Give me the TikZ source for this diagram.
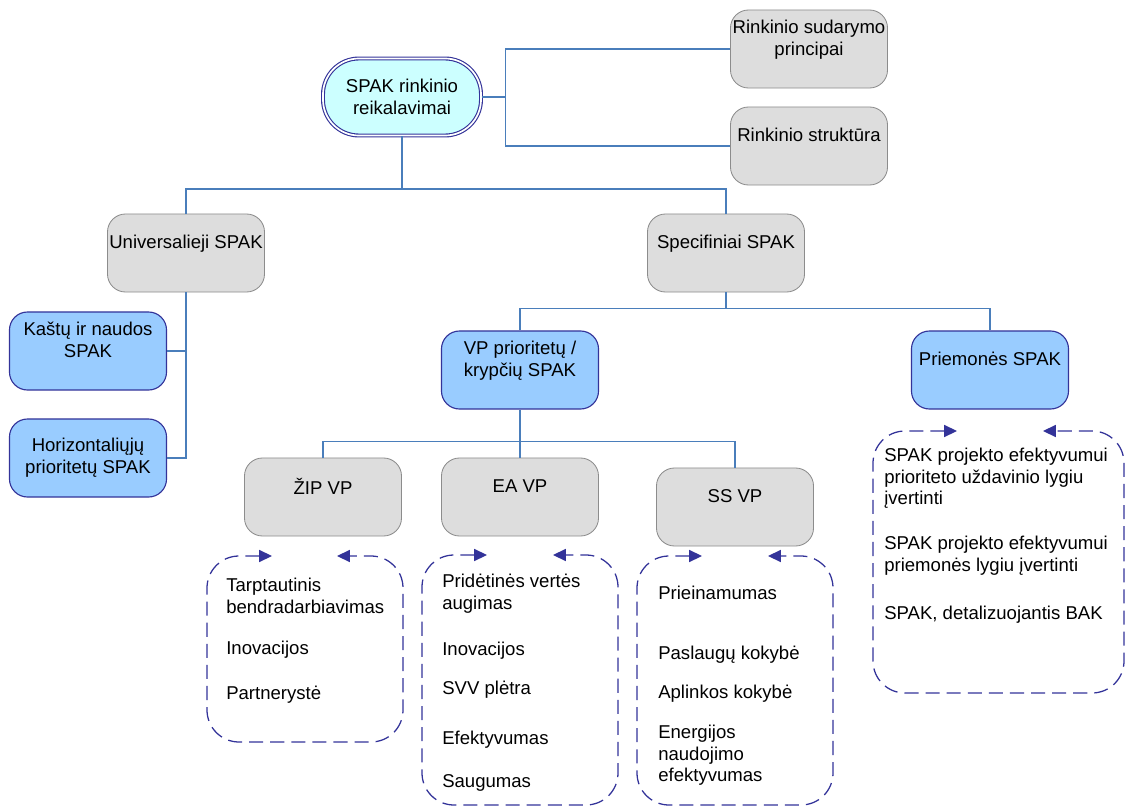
\documentclass[tikz,border=0pt]{standalone}
\usepackage{fontspec}
\setmainfont{Liberation Sans}
\usetikzlibrary{arrows.meta,positioning}
\definecolor{Navy}{HTML}{333399}
\definecolor{Link}{HTML}{4A7EBB}
\definecolor{SkyFill}{HTML}{99CCFF}
\definecolor{IceFill}{HTML}{CCFFFF}
\definecolor{GreyFill}{HTML}{DDDDDD}
\definecolor{GreyLine}{HTML}{8C8C8C}

\begin{document}
\begin{tikzpicture}[x=0.025cm,y=-0.025cm,
  every node/.style={font=\fontsize{13.2}{15.6}\selectfont},
  box/.style={rounded corners=0.45cm,minimum width=3.925cm,minimum height=1.95cm,inner sep=1pt,align=center},
  greybox/.style={box,draw=GreyLine,fill=GreyFill,line width=0.6pt},
  bluebox/.style={box,draw=Navy,fill=SkyFill,line width=0.8pt},
  rootbox/.style={box,rounded corners=0.9cm,draw=Navy,double=white,double distance=1.2pt,line width=0.8pt,fill=IceFill,minimum width=3.95cm,minimum height=1.925cm},
  link/.style={draw=Link,line width=0.9pt},
  cycleline/.style={draw=Navy,line width=0.9pt,dash pattern=on 10pt off 5pt,rounded corners=0.8cm,{Triangle[length=0.32cm,width=0.3cm]}-{Triangle[length=0.32cm,width=0.3cm]}},
  item/.style={anchor=west,inner sep=0pt,text height=9pt,text depth=0pt}
]
\useasboundingbox (0,0) rectangle (1126,808);

% top level
\node[rootbox] (root) at (402,97) {SPAK rinkinio\\reikalavimai};
\node[greybox] (princ) at (809,49) {Rinkinio sudarymo\\principai\\~};
\node[greybox] (strukt) at (809,146) {Rinkinio struktūra\\~};
\node[greybox] (univ) at (186,253) {Universalieji SPAK\\~};
\node[greybox] (spec) at (726,253) {Specifiniai SPAK\\~};

% universal branch
\node[bluebox] (kastu) at (88,351) {Kaštų ir naudos\\SPAK\\~};
\node[bluebox] (horiz) at (88,458) {Horizontaliųjų\\prioritetų SPAK};

% specific branch
\node[bluebox] (vp) at (520,370) {VP prioritetų /\\krypčių SPAK\\~};
\node[bluebox] (priem) at (990,370) {Priemonės SPAK\\~};
\node[greybox] (zip) at (323,497) {ŽIP VP\\~};
\node[greybox] (ea) at (520,497) {EA VP\\~};
\node[greybox] (ss) at (735,507) {SS VP\\~};

% connectors
\draw[link] (root.east) -- ++(24,0) coordinate (rj) |- (princ.west);
\draw[link] (rj) |- (strukt.west);
\draw[link] (root.south) -- ++(0,53) coordinate (rt) -| (univ.north);
\draw[link] (rt) -| (spec.north);
\draw[link] (univ.south) |- (kastu.east);
\draw[link] (univ.south) |- (horiz.east);
\draw[link] (spec.south) -- ++(0,16) coordinate (st) -| (vp.north);
\draw[link] (st) -| (priem.north);
\draw[link] (vp.south) -- ++(0,32) coordinate (vt) -| (zip.north);
\draw[link] (vt) -| (ss.north);
\draw[link] (vp.south) -- (ea.north);

% dashed cycles
\draw[cycleline] (272,556) -- (207,556) -- (207,742) -- (403,742) -- (403,556) -- (337,556);
\draw[cycleline] (487,555) -- (422,555) -- (422,805) -- (618,805) -- (618,555) -- (553,555);
\draw[cycleline] (702,556) -- (637,556) -- (637,805) -- (833,805) -- (833,556) -- (768,556);
\draw[cycleline] (957,431) -- (873,431) -- (873,693) -- (1124,693) -- (1124,431) -- (1043,431);

% lists
\foreach \t/\y [count=\i] in {Tarptautinis/585,bendradarbiavimas/607,Inovacijos/648,Partnerystė/693}
  \node[item] (zipitem\i) at (226,\y) {\t};
\foreach \t/\y [count=\i] in {Pridėtinės vertės/581,augimas/603,Inovacijos/649,SVV plėtra/688,Efektyvumas/738,Saugumas/781}
  \node[item] (eaitem\i) at (442,\y) {\t};
\foreach \t/\y [count=\i] in {Prieinamumas/593,Paslaugų kokybė/653,Aplinkos kokybė/692,Energijos/732,naudojimo/754,efektyvumas/775}
  \node[item] (ssitem\i) at (658,\y) {\t};
\foreach \t/\y [count=\i] in {SPAK projekto efektyvumui/455,prioriteto uždavinio lygiu/477,įvertinti/498,SPAK projekto efektyvumui/543,priemonės lygiu įvertinti/565,{SPAK, detalizuojantis BAK}/613}
  \node[item] (priemitem\i) at (884,\y) {\t};
\end{tikzpicture}
\end{document}
